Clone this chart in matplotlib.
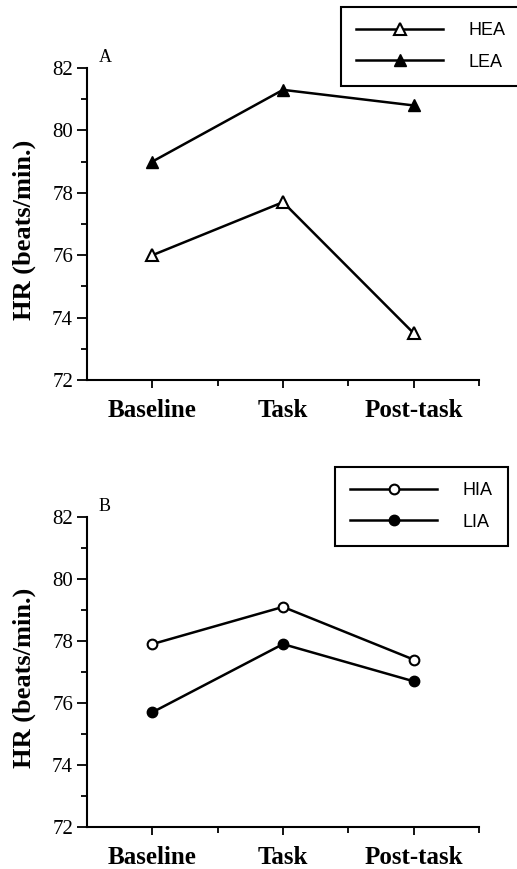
import matplotlib
matplotlib.use("Agg")
import matplotlib.pyplot as plt
from matplotlib.ticker import FixedLocator, MultipleLocator

# data
phases = ["Baseline", "Task", "Post-task"]
hea = [76.0, 77.7, 73.5]
lea = [79.0, 81.3, 80.8]
hia = [77.9, 79.1, 77.4]
lia = [75.7, 77.9, 76.7]
y_ticks = [72, 74, 76, 78, 80, 82]

SERIF = ["Liberation Serif", "DejaVu Serif"]
SANS = ["Liberation Sans", "DejaVu Sans"]
W, H = 517, 869


def setup_axes(ax, panel_letter):
    x = list(range(1, len(phases) + 1))
    ax.set_xlim(0.5, len(phases) + 0.5)
    ax.set_ylim(72, 82)
    ax.spines["top"].set_visible(False)
    ax.spines["right"].set_visible(False)
    for s in ("left", "bottom"):
        ax.spines[s].set_linewidth(1.5)
    ax.xaxis.set_major_locator(FixedLocator(x))
    ax.xaxis.set_minor_locator(FixedLocator([v + 0.5 for v in x]))
    ax.set_xticklabels(phases, fontfamily=SERIF, fontweight="bold", fontsize=18)
    ax.yaxis.set_major_locator(FixedLocator(y_ticks))
    ax.yaxis.set_minor_locator(MultipleLocator(1))
    ax.set_yticklabels([str(v) for v in y_ticks], fontfamily=SERIF, fontsize=15)
    ax.tick_params(axis="x", which="major", length=6, width=1.3, pad=8)
    ax.tick_params(axis="x", which="minor", length=4, width=1.3)
    ax.tick_params(axis="y", which="major", length=7, width=1.3, pad=3)
    ax.tick_params(axis="y", which="minor", length=4, width=1.3)
    ax.set_ylabel("HR (beats/min.)", fontfamily=SERIF, fontweight="bold", fontsize=19)
    ax.yaxis.set_label_coords(-0.13, 0.48)
    ax.text(0.03, 1.005, panel_letter, transform=ax.transAxes, fontfamily=SERIF,
            fontsize=13, ha="left", va="bottom")


def add_legend(ax, left_px, top_px):
    leg = ax.legend(loc="upper left", bbox_to_anchor=(left_px / W, 1 - top_px / H),
                    bbox_transform=ax.figure.transFigure, frameon=True, fancybox=False,
                    edgecolor="black", framealpha=1, borderaxespad=0,
                    prop={"family": SANS, "size": 13}, handlelength=4.8,
                    handletextpad=1.4, borderpad=0.85, labelspacing=0.8)
    leg.get_frame().set_linewidth(1.5)
    return leg


fig = plt.figure(figsize=(W / 100, H / 100), dpi=100)
ax_a = fig.add_axes([87 / W, 1 - 380 / H, (479 - 87) / W, (380 - 68) / H])
ax_b = fig.add_axes([87 / W, 1 - 827 / H, (479 - 87) / W, (827 - 517) / H])

x = list(range(1, len(phases) + 1))

# panel A
ax_a.plot(x, hea, color="black", lw=1.8, marker="^", ms=8.5, mfc="white", mec="black",
          mew=1.5, label="HEA", clip_on=False)
ax_a.plot(x, lea, color="black", lw=1.8, marker="^", ms=8.5, mfc="black", mec="black",
          label="LEA", clip_on=False)
setup_axes(ax_a, "A")
add_legend(ax_a, 341, 7)

# panel B
ax_b.plot(x, hia, color="black", lw=1.8, marker="o", ms=7, mfc="white", mec="black",
          mew=1.5, label="HIA", clip_on=False)
ax_b.plot(x, lia, color="black", lw=1.8, marker="o", ms=7.5, mfc="black", mec="black",
          label="LIA", clip_on=False)
setup_axes(ax_b, "B")
add_legend(ax_b, 335, 467)

fig.savefig("out.png", dpi=100)
